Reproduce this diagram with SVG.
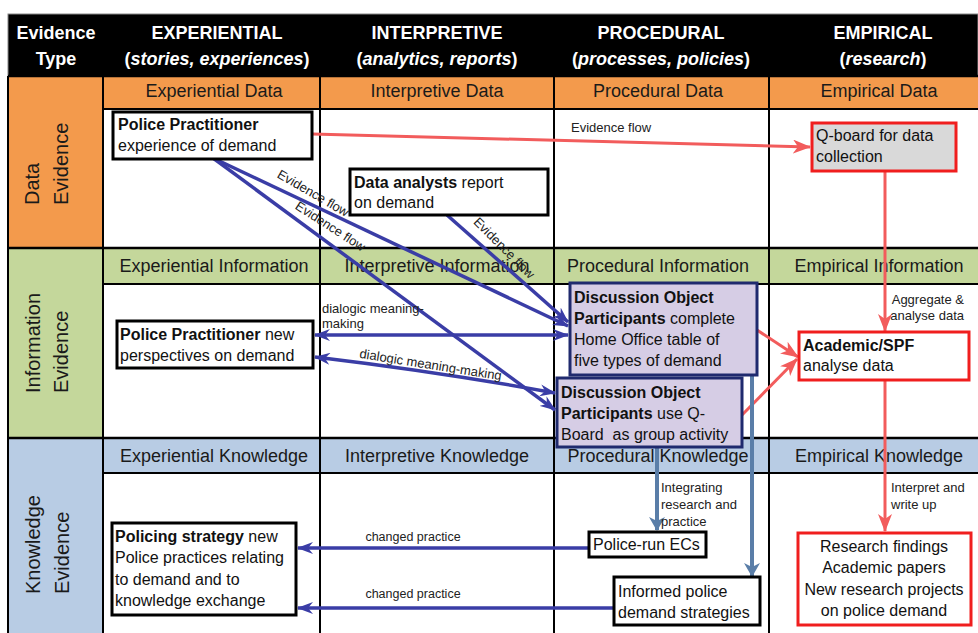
<svg xmlns="http://www.w3.org/2000/svg" width="978" height="633" viewBox="0 0 978 633">
<defs>
<style>
text{font-family:"Liberation Sans",Arial,sans-serif}
.hd{font-size:18px;font-weight:bold;fill:#fff;text-anchor:middle}
.sub{font-size:18px;fill:#1a1a1a;text-anchor:middle}
.side{font-size:20px;fill:#1a1a1a}
.nt{font-size:16px;fill:#111}
.b{font-weight:bold}
.lbl{font-size:13px;fill:#222}
.cp{font-size:12.5px;fill:#222;text-anchor:middle}
.box{fill:#fff;stroke:#000;stroke-width:3}
.pbox{fill:#d6cde5;stroke:#1f2a6e;stroke-width:3}
.rbox{fill:#fff;stroke:#f01e1e;stroke-width:3}
.gbox{fill:#d9d9d9;stroke:#f01e1e;stroke-width:3}
.grid{stroke:#000;stroke-width:2;fill:none}
.thick{stroke:#000;stroke-width:2.5;fill:none}
.blue{stroke:#3a3da6;stroke-width:3.5;fill:none}
.red{stroke:#f25c5c;stroke-width:3;fill:none}
.steel{stroke:#5a7ea8;stroke-width:4;fill:none}
</style>
<marker id="mb" viewBox="0 0 16 12" refX="15" refY="6" markerWidth="16" markerHeight="12" markerUnits="userSpaceOnUse" orient="auto-start-reverse"><path d="M0,0 L16,6 L0,12 L5,6 Z" fill="#3a3da6"/></marker>
<marker id="mr" viewBox="0 0 18 14" refX="17" refY="7" markerWidth="18" markerHeight="14" markerUnits="userSpaceOnUse" orient="auto"><path d="M0,0 L18,7 L0,14 L5,7 Z" fill="#f25c5c"/></marker>
<marker id="ms" viewBox="0 0 14 16" refX="13" refY="8" markerWidth="14" markerHeight="16" markerUnits="userSpaceOnUse" orient="auto"><path d="M0,0 L14,8 L0,16 L4,8 Z" fill="#5a7ea8"/></marker>
</defs>

<g id="table">
<rect x="0" y="0" width="978" height="633" fill="#fff"/>
<rect x="8" y="14" width="970" height="62" fill="#000" stroke="#888" stroke-width="1"/>
<rect x="8" y="76" width="95" height="172" fill="#f39a4c"/>
<rect x="103" y="76" width="875" height="33" fill="#f39a4c"/>
<rect x="8" y="248" width="95" height="190" fill="#c4d79b"/>
<rect x="103" y="248" width="875" height="36" fill="#c4d79b"/>
<rect x="8" y="438" width="95" height="195" fill="#b8cce4"/>
<rect x="103" y="438" width="875" height="35" fill="#b8cce4"/>
<path class="grid" d="M8,76V633M103,76V633M320,76V633M554,76V633M769,76V633M103,109H978M103,284H978M103,473H978"/>
<path class="thick" d="M8,76H978M8,248H978M8,438H978"/>

<text class="hd" x="56" y="39">Evidence</text>
<text class="hd" x="56" y="65">Type</text>
<text class="hd" x="217" y="39">EXPERIENTIAL</text>
<text class="hd" x="217" y="65">(<tspan font-style="italic">stories, experiences</tspan>)</text>
<text class="hd" x="437" y="39">INTERPRETIVE</text>
<text class="hd" x="437" y="65">(<tspan font-style="italic">analytics, reports</tspan>)</text>
<text class="hd" x="661" y="39">PROCEDURAL</text>
<text class="hd" x="661" y="65">(<tspan font-style="italic">processes, policies</tspan>)</text>
<text class="hd" x="883" y="39">EMPIRICAL</text>
<text class="hd" x="883" y="65">(<tspan font-style="italic">research</tspan>)</text>

<text class="sub" x="214" y="97">Experiential Data</text>
<text class="sub" x="437" y="97">Interpretive Data</text>
<text class="sub" x="658" y="97">Procedural Data</text>
<text class="sub" x="879" y="97">Empirical Data</text>
<text class="sub" x="214" y="272">Experiential Information</text>
<text class="sub" x="437" y="272">Interpretive Information</text>
<text class="sub" x="658" y="272">Procedural Information</text>
<text class="sub" x="879" y="272">Empirical Information</text>
<text class="sub" x="214" y="462">Experiential Knowledge</text>
<text class="sub" x="437" y="462">Interpretive Knowledge</text>
<text class="sub" x="658" y="462">Procedural Knowledge</text>
<text class="sub" x="879" y="462">Empirical Knowledge</text>

<g transform="translate(0,205) rotate(-90)"><text class="side" x="0" y="39">Data</text><text class="side" x="0" y="68">Evidence</text></g>
<g transform="translate(0,393) rotate(-90)"><text class="side" x="0" y="40">Information</text><text class="side" x="0" y="68">Evidence</text></g>
<g transform="translate(0,594) rotate(-90)"><text class="side" x="0" y="40">Knowledge</text><text class="side" x="0" y="69">Evidence</text></g>
</g>

<g id="connectors">
<path class="red" d="M312,134 L810,147" marker-end="url(#mr)"/>
<path class="red" d="M885,171 V331" marker-end="url(#mr)"/>
<path class="red" d="M885,380 V531" marker-end="url(#mr)"/>
<path class="red" d="M757,330 L798,357" marker-end="url(#mr)"/>
<path class="red" d="M742,415 L797,359" marker-end="url(#mr)"/>

<path class="blue" d="M213,158 L568,326" marker-end="url(#mb)"/>
<path class="blue" d="M213,158 L555,410" marker-end="url(#mb)"/>
<path class="blue" d="M447,215 L568,322" marker-end="url(#mb)"/>
<path class="blue" d="M315,335 H568" marker-start="url(#mb)" marker-end="url(#mb)"/>
<path class="blue" d="M315,357 Q440,372 555,393" marker-start="url(#mb)" marker-end="url(#mb)"/>
<path class="blue" d="M589,548 H298" marker-end="url(#mb)"/>
<path class="blue" d="M614,608 H298" marker-end="url(#mb)"/>

<path class="steel" d="M657,447 V530" marker-end="url(#ms)"/>
<path class="steel" d="M752,375 V576" marker-end="url(#ms)"/>

<text class="lbl" x="571" y="132">Evidence flow</text>
<text class="lbl" transform="translate(311,197) rotate(30)" text-anchor="middle">Evidence flow</text>
<text class="lbl" transform="translate(328,230) rotate(33)" text-anchor="middle">Evidence flow</text>
<text class="lbl" transform="translate(501,251) rotate(45)" text-anchor="middle">Evidence flow</text>
<text class="lbl" x="322" y="313">dialogic meaning-</text>
<text class="lbl" x="322" y="328">making</text>
<text class="lbl" transform="translate(430,369) rotate(9)" text-anchor="middle">dialogic meaning-making</text>
<text class="lbl" x="964" y="304" text-anchor="end">Aggregate &amp;</text>
<text class="lbl" x="964" y="320" text-anchor="end">analyse data</text>
<text class="lbl" x="891" y="492">Interpret and</text>
<text class="lbl" x="891" y="509">write up</text>
<text class="lbl" x="661" y="492">Integrating</text>
<text class="lbl" x="661" y="509">research and</text>
<text class="lbl" x="661" y="526">practice</text>
<text class="cp" x="413" y="541">changed practice</text>
<text class="cp" x="413" y="598">changed practice</text>
</g>

<g id="pp-experience">
<rect class="box" x="113" y="112" width="199" height="47"/>
<text class="nt" x="118" y="130"><tspan class="b">Police Practitioner</tspan></text>
<text class="nt" x="118" y="151">experience of demand</text>
</g>
<g id="data-analysts">
<rect class="box" x="350" y="169" width="198" height="46"/>
<text class="nt" x="354" y="188"><tspan class="b">Data analysts</tspan> report</text>
<text class="nt" x="354" y="208">on demand</text>
</g>
<g id="q-board">
<rect class="gbox" x="812" y="123" width="144" height="48"/>
<text class="nt" x="816" y="141">Q-board for data</text>
<text class="nt" x="816" y="162">collection</text>
</g>
<g id="pp-new">
<rect class="box" x="117" y="321" width="196" height="47"/>
<text class="nt" x="120" y="340"><tspan class="b">Police Practitioner</tspan> new</text>
<text class="nt" x="120" y="361">perspectives on demand</text>
</g>
<g id="do-table">
<rect class="pbox" x="570" y="283" width="187" height="92"/>
<text class="nt" x="574" y="303"><tspan class="b">Discussion Object</tspan></text>
<text class="nt" x="574" y="324"><tspan class="b">Participants</tspan> complete</text>
<text class="nt" x="574" y="345">Home Office table of</text>
<text class="nt" x="574" y="366">five types of demand</text>
</g>
<g id="do-qboard">
<rect class="pbox" x="557" y="378" width="185" height="69"/>
<text class="nt" x="561" y="398"><tspan class="b">Discussion Object</tspan></text>
<text class="nt" x="561" y="419"><tspan class="b">Participants</tspan> use Q-</text>
<text class="nt" x="561" y="440" xml:space="preserve">Board  as group activity</text>
</g>
<g id="academic">
<rect class="rbox" x="799" y="332" width="170" height="48"/>
<text class="nt" x="803" y="351"><tspan class="b">Academic/SPF</tspan></text>
<text class="nt" x="803" y="371">analyse data</text>
</g>
<g id="police-ecs">
<rect class="box" x="589" y="532" width="117" height="25"/>
<text class="nt" x="593" y="550">Police-run ECs</text>
</g>
<g id="informed">
<rect class="box" x="614" y="577" width="146" height="48"/>
<text class="nt" x="618" y="597">Informed police</text>
<text class="nt" x="618" y="618">demand strategies</text>
</g>
<g id="research">
<rect class="rbox" x="798" y="533" width="173" height="92"/>
<text class="nt" x="884" y="552" text-anchor="middle">Research findings</text>
<text class="nt" x="884" y="573" text-anchor="middle">Academic papers</text>
<text class="nt" x="884" y="595" text-anchor="middle">New research projects</text>
<text class="nt" x="884" y="616" text-anchor="middle">on police demand</text>
</g>
<g id="policing-strategy">
<rect class="box" x="112" y="523" width="184" height="92"/>
<text class="nt" x="115" y="542"><tspan class="b">Policing strategy</tspan> new</text>
<text class="nt" x="115" y="563">Police practices relating</text>
<text class="nt" x="115" y="585">to demand and to</text>
<text class="nt" x="115" y="606">knowledge exchange</text>
</g>
</svg>
